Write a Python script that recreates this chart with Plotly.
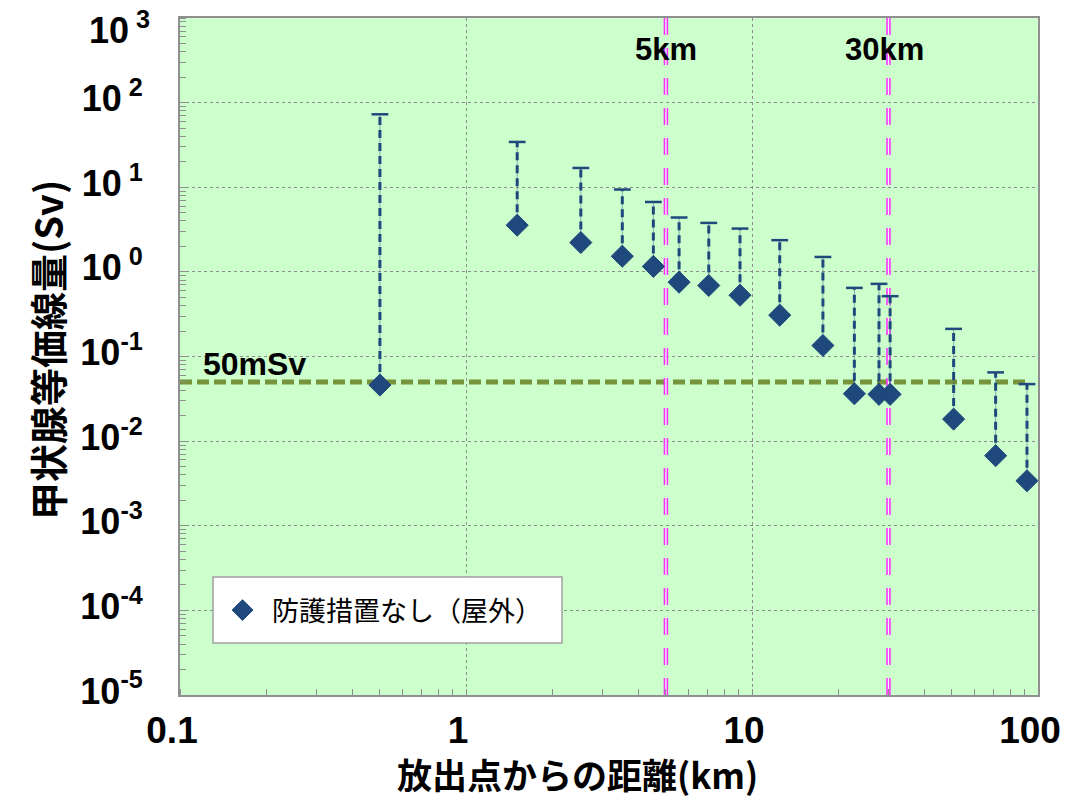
import numpy as np
import plotly.graph_objects as go

# Distance from release point (km), dose without protective measures, and upper bound
distance_km = [0.50, 1.51, 2.52, 3.52, 4.52, 5.56, 7.06, 9.08, 12.5, 17.7, 22.8, 27.8, 30.4, 50.7, 71.1, 91.5]
dose_sv = [0.046, 3.56, 2.22, 1.53, 1.16, 0.756, 0.69, 0.53, 0.308, 0.135, 0.0363, 0.0357, 0.0357, 0.0182, 0.00673, 0.0034]
dose_upper_sv = [72.8, 34.3, 16.9, 9.4, 6.7, 4.39, 3.79, 3.25, 2.37, 1.50, 0.647, 0.722, 0.516, 0.212, 0.0649, 0.0472]

series_name = "防護措置なし（屋外）"

# Reference levels
threshold_sv = 0.05
threshold_label = "50mSv"
zone_km = [5, 30]
zone_labels = ["5km", "30km"]
zone_label_shift = [0, -4]

x_range = [0.1, 100]
y_range = [1e-5, 1e3]
x_ticks = [0.1, 1, 10, 100]
x_ticktext = ["0.1", "1", "10", "100"]
y_exponents = [-5, -4, -3, -2, -1, 0, 1, 2, 3]

x_title = "放出点からの距離(km)"
y_title = "甲状腺等価線量(Sv)"

NAVY = "#1f497d"
GREEN_BG = "#ccffcc"
OLIVE = "#77933c"
MAGENTA = "#ff33ff"
GRID = "#8c8c8c"
NUM_FONT = "Liberation Sans, Arial, Noto Sans CJK JP"
JP_FONT = "Noto Sans CJK JP, Liberation Sans"
TICK_FONT_Y = dict(family=NUM_FONT, size=36, color="black", weight="bold")

# Plot-area geometry in pixels (used for paper-coordinate placement)
W, H = 1088, 801
ML, MR, MT, MB = 180, 50, 18, 106
PW, PH = W - ML - MR, H - MT - MB


def px_x(px):
    return (px - ML) / PW


def px_y(py):
    return (H - MB - py) / PH


def stem_coords(xs, lo, hi):
    sx, sy = [], []
    for x, a, b in zip(xs, lo, hi):
        sx += [x, x, None]
        sy += [a, b, None]
    return sx, sy


def power_label(e):
    return f"10<sup>{'\u00a0' if e >= 0 else ''}{e}</sup>"


fig = go.Figure()

# 50 mSv reference line
fig.add_trace(go.Scatter(
    x=[x_range[0], distance_km[-1] * 1.02], y=[threshold_sv, threshold_sv],
    mode="lines", line=dict(color=OLIVE, width=5, dash="12px,5px"),
    hoverinfo="skip", showlegend=False,
))

# 5 km / 30 km zone boundaries (double dashed lines)
for km in zone_km:
    fig.add_trace(go.Scatter(
        x=[km, km], y=y_range, mode="lines",
        line=dict(color=MAGENTA, width=4.5, dash="17px,13px"),
        hoverinfo="skip", showlegend=False,
    ))
    fig.add_trace(go.Scatter(
        x=[km, km], y=y_range, mode="lines",
        line=dict(color="#e6ffe6", width=1.3, dash="17px,13px"),
        hoverinfo="skip", showlegend=False,
    ))

# Range stems: thin solid line under a dashed one
sx, sy = stem_coords(distance_km, dose_sv, dose_upper_sv)
fig.add_trace(go.Scatter(
    x=sx, y=sy, mode="lines", line=dict(color="rgba(31,73,125,0.45)", width=1),
    hoverinfo="skip", showlegend=False,
))
fig.add_trace(go.Scatter(
    x=sx, y=sy, mode="lines", line=dict(color=NAVY, width=3, dash="8px,5px"),
    hoverinfo="skip", showlegend=False,
))

# Caps at the upper bound
fig.add_trace(go.Scatter(
    x=distance_km, y=dose_upper_sv, mode="markers",
    marker=dict(symbol="line-ew", size=12, line=dict(color=NAVY, width=2.5)),
    hoverinfo="skip", showlegend=False,
))

# Dose points
fig.add_trace(go.Scatter(
    x=distance_km, y=dose_sv, mode="markers", name=series_name,
    marker=dict(symbol="diamond", size=17, color=NAVY, line=dict(color=NAVY, width=1)),
))

# Text labels
annotations = []
for km, lab, sh in zip(zone_km, zone_labels, zone_label_shift):
    annotations.append(dict(
        x=np.log10(km), xref="x", y=px_y(50), yref="paper", text=lab, showarrow=False,
        xshift=sh, xanchor="center", yanchor="middle",
        font=dict(family=NUM_FONT, size=31, color="black", weight="bold"),
    ))
annotations.append(dict(
    x=px_x(201), xref="paper", y=np.log10(threshold_sv), yref="y", text=threshold_label,
    showarrow=False, xanchor="left", yanchor="bottom", yshift=-2,
    font=dict(family=NUM_FONT, size=32, color="black", weight="bold"),
))
annotations.append(dict(
    x=px_x(577), xref="paper", y=px_y(773), yref="paper", text=x_title,
    showarrow=False, xanchor="center", yanchor="middle",
    font=dict(family=JP_FONT, size=35, color="black", weight="bold"),
))
annotations.append(dict(
    x=px_x(46), xref="paper", y=px_y(350), yref="paper", text=y_title,
    showarrow=False, textangle=-90, xanchor="center", yanchor="middle",
    font=dict(family=JP_FONT, size=38, color="black", weight="bold"),
))

# The top decade label sits just inside the plot top, so it is placed as text
top_exp = y_exponents[-1]
annotations.append(dict(
    x=0, xref="paper", y=top_exp, yref="y", text=power_label(top_exp),
    showarrow=False, xanchor="right", yanchor="middle", xshift=-28, yshift=-10,
    font=TICK_FONT_Y,
))
y_ticktext = [power_label(e) if e != top_exp else "" for e in y_exponents]

axis_common = dict(
    type="log", showline=True, linecolor="#8f8f8f", linewidth=2, mirror=True,
    showgrid=True, gridcolor=GRID, griddash="dot", gridwidth=1,
    ticks="", zeroline=False, ticklabeloverflow="allow", automargin=False,
    minor=dict(ticks="inside", ticklen=6, tickcolor="#8f8f8f", tickwidth=1.2,
               dtick="D1", showgrid=False),
)

# Legend frame
shapes = [dict(
    type="rect", xref="paper", yref="paper",
    x0=px_x(213), x1=px_x(562), y0=px_y(643), y1=px_y(577),
    fillcolor="white", line=dict(color="#a0a0a0", width=1.5), layer="above",
)]

fig.update_layout(
    width=W, height=H,
    margin=dict(l=ML, r=MR, t=MT, b=MB, autoexpand=False),
    paper_bgcolor="white", plot_bgcolor=GREEN_BG,
    annotations=annotations,
    shapes=shapes,
    showlegend=True,
    legend=dict(
        x=px_x(213), y=px_y(586), xanchor="left", yanchor="top",
        bgcolor="rgba(0,0,0,0)", borderwidth=0, itemwidth=49,
        font=dict(family=JP_FONT, size=27, color="black"),
    ),
    xaxis=dict(
        **axis_common,
        range=[np.log10(x_range[0]), np.log10(x_range[1])],
        tickvals=x_ticks, ticktext=x_ticktext, ticklabelstandoff=2,
        ticklabelshift=-8,
        tickfont=dict(family=NUM_FONT, size=37, color="black", weight="bold"),
    ),
    yaxis=dict(
        **axis_common,
        range=[np.log10(y_range[0]), np.log10(y_range[1])],
        tickvals=[10.0 ** e for e in y_exponents], ticktext=y_ticktext,
        ticklabelstandoff=28, ticklabelshift=-4,
        tickfont=TICK_FONT_Y,
    ),
)

fig.write_html("out.html")
